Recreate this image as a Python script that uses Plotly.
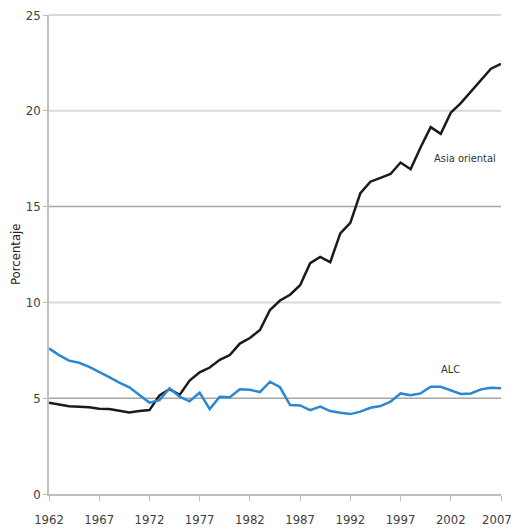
import plotly.graph_objects as go

years = list(range(1962, 2008))

asia_oriental = [4.77, 4.66, 4.58, 4.56, 4.53, 4.45, 4.43, 4.35, 4.26, 4.33,
                 4.38, 5.15, 5.47, 5.17, 5.92, 6.35, 6.6, 7.0, 7.25, 7.85,
                 8.14, 8.56, 9.6, 10.1, 10.4, 10.9, 12.05, 12.37, 12.1, 13.6,
                 14.15, 15.7, 16.3, 16.5, 16.7, 17.3, 16.95, 18.1, 19.15, 18.8,
                 19.9, 20.4, 21.0, 21.6, 22.2, 22.45]

alc = [7.6, 7.25, 6.96, 6.85, 6.64, 6.38, 6.1, 5.81, 5.57, 5.17,
       4.77, 4.9, 5.52, 5.08, 4.84, 5.29, 4.43, 5.08, 5.05, 5.47,
       5.44, 5.32, 5.86, 5.57, 4.64, 4.62, 4.38, 4.56, 4.33, 4.24,
       4.17, 4.3, 4.5, 4.59, 4.82, 5.25, 5.16, 5.25, 5.6, 5.6,
       5.43, 5.22, 5.25, 5.46, 5.55, 5.52]

x_ticks = [1962, 1967, 1972, 1977, 1982, 1987, 1992, 1997, 2002, 2007]
y_ticks = [0, 5, 10, 15, 20, 25]
light_grid = [10, 20, 25]
dark_grid = [5, 15]
y_range = [0, 25]

FONT = "DejaVu Sans Condensed, Liberation Sans, Arial, sans-serif"
TICKFONT = dict(family=FONT, size=13, color="#404040")

fig = go.Figure()


def frac(v):
    return (v - y_range[0]) / (y_range[1] - y_range[0])


shapes = []
for g in light_grid:
    shapes.append(dict(type="line", xref="paper", yref="paper", x0=0, x1=1,
                       y0=frac(g), y1=frac(g),
                       line=dict(color="#d9d9d9", width=2), layer="below"))
for g in dark_grid:
    shapes.append(dict(type="line", xref="paper", yref="paper", x0=0, x1=1,
                       y0=frac(g), y1=frac(g),
                       line=dict(color="#a6a6a6", width=1.5), layer="below"))

fig.add_trace(go.Scatter(x=years, y=asia_oriental, mode="lines", name="Asia oriental",
                         line=dict(color="#1a1a1a", width=2.5), cliponaxis=False))
fig.add_trace(go.Scatter(x=years, y=alc, mode="lines", name="ALC",
                         line=dict(color="#2a88d3", width=2.5), cliponaxis=False))

fig.add_annotation(x=2003.4, y=17.5, text="Asia oriental", showarrow=False,
                   font=dict(family=FONT, size=11, color="#333333"))
fig.add_annotation(x=2002.0, y=6.5, text="ALC", showarrow=False,
                   font=dict(family=FONT, size=11, color="#333333"))
fig.add_annotation(xref="paper", yref="paper", x=-34 / 452, y=(494 - 254) / 479,
                   xanchor="center", yanchor="middle", text="Porcentaje",
                   textangle=-90, showarrow=False,
                   font=dict(family=FONT, size=13, color="#222222"))

# last x tick label sits at the right edge: nudge it a little so it stays on the page
last_tick = x_ticks[-1]
fig.add_annotation(x=last_tick, xref="x", yref="paper", y=0, xanchor="center",
                   yanchor="middle", xshift=-4, yshift=-25, text=str(last_tick),
                   showarrow=False, font=TICKFONT)

fig.update_layout(
    width=513, height=531,
    margin=dict(l=49, r=12, t=15, b=37, autoexpand=False),
    paper_bgcolor="white", plot_bgcolor="white",
    showlegend=False,
    shapes=shapes,
    font=dict(family=FONT, size=13, color="#404040"),
)

fig.update_xaxes(range=[1962, 2007], tickvals=x_ticks,
                 ticktext=[str(t) for t in x_ticks[:-1]] + [""],
                 showgrid=False, zeroline=False, showline=True, linecolor="#bfbfbf",
                 linewidth=1.5, ticks="outside", ticklen=5, tickcolor="#bfbfbf",
                 automargin=False, ticklabelstandoff=8, ticklabeloverflow="allow",
                 tickfont=TICKFONT)
fig.update_yaxes(range=y_range, tickvals=y_ticks, showgrid=False, zeroline=False,
                 showline=True, linecolor="#bfbfbf", linewidth=1.5, ticks="outside",
                 ticklen=4, tickcolor="#bfbfbf", automargin=False,
                 ticklabeloverflow="allow", tickfont=TICKFONT)

fig.write_html(
    "out.html",
    config={"displayModeBar": False},
    post_script="document.body.style.margin='0';document.body.style.overflow='hidden';",
)
